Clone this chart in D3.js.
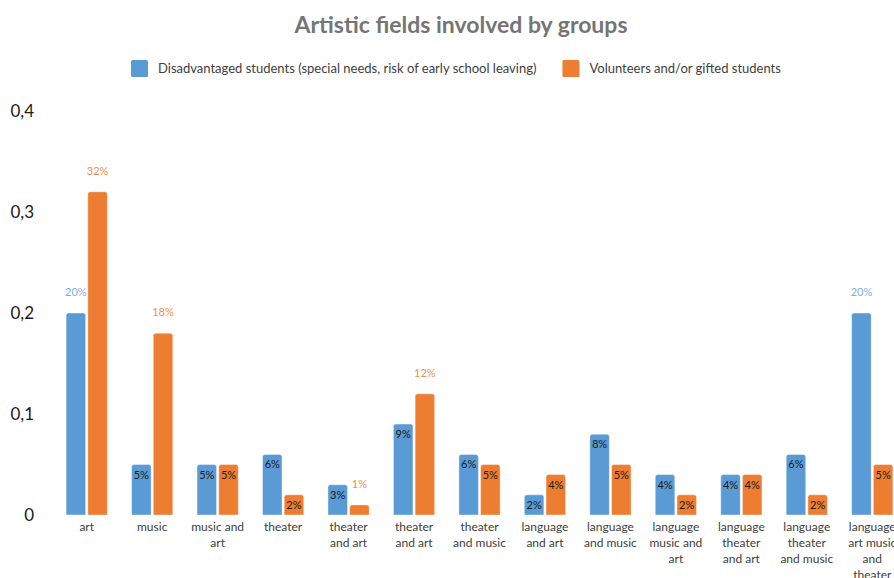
<!DOCTYPE html>
<html>
<head>
<meta charset="utf-8">
<script src="https://cdn.jsdelivr.net/npm/d3@7"></script>
<style>
  body { margin: 0; background: #fff; }
  text { font-family: Lato, "Noto Sans", sans-serif; }
</style>
</head>
<body>
<div id="chart-area"></div>
<script>
const width = 894;
const height = 578;

// data
const categories = ["art", "music", "music and art", "theater", "theater and art",
    "theater and art", "theater and music", "language and art", "language and music",
    "language music and art", "language theater and art", "language theater and music",
    "language art music and theater"];
const seriesNames = ["Disadvantaged students (special needs, risk of early school leaving)",
    "Volunteers and/or gifted students"];
const disadvantaged = [0.20, 0.05, 0.05, 0.06, 0.03, 0.09, 0.06, 0.02, 0.08, 0.04, 0.04, 0.06, 0.20];
const volunteers = [0.32, 0.18, 0.05, 0.02, 0.01, 0.12, 0.05, 0.04, 0.05, 0.02, 0.04, 0.02, 0.05];
const yTicks = [0, 0.1, 0.2, 0.3, 0.4];

const colors = ["#5B9BD5", "#ED7D31"];
const labelColors = ["#7EAEDC", "#EE8F4F"];

const plotLeft = 54, plotRight = 905, plotTop = 111, plotBottom = 515;

const svg = d3.select("#chart-area")
    .append("svg")
    .attr("width", width)
    .attr("height", height);

// title
svg.append("text")
    .attr("x", 461)
    .attr("y", 33)
    .attr("text-anchor", "middle")
    .attr("font-size", 23)
    .attr("font-weight", "bold")
    .attr("fill", "#757575")
    .text("Artistic fields involved by groups");

// legend
let lx = 131;
seriesNames.forEach((name, i) => {
    svg.append("rect")
        .attr("x", lx).attr("y", 60)
        .attr("width", 17).attr("height", 17)
        .attr("rx", 1.5)
        .attr("fill", colors[i]);
    const t = svg.append("text")
        .attr("x", lx + 27)
        .attr("y", 73)
        .attr("font-size", 13)
        .attr("fill", "#404040")
        .text(name);
    lx += 27 + t.node().getComputedTextLength() + 26;
});

const yScale = d3.scaleLinear()
    .domain([0, 0.4])
    .range([plotBottom, plotTop]);

const x0 = d3.scaleBand()
    .domain(d3.range(categories.length))
    .range([plotLeft, plotRight])
    .paddingInner(0.37)
    .paddingOuter(0.185);

const x1 = d3.scaleBand()
    .domain([0, 1])
    .range([0, x0.bandwidth()])
    .paddingInner(0.1);

// y axis (labels only)
const yAxis = d3.axisLeft(yScale)
    .tickValues(yTicks)
    .tickSize(0)
    .tickPadding(0)
    .tickFormat(d => d === 0 ? "0" : d3.format(".1f")(d).replace(".", ","));

const yAxisGroup = svg.append("g")
    .attr("transform", "translate(34,0)")
    .call(yAxis);
yAxisGroup.select(".domain").remove();
yAxisGroup.selectAll("text")
    .attr("font-family", "Lato, 'Noto Sans', sans-serif")
    .attr("font-size", 17)
    .attr("fill", "#1a1a1a");

const rows = categories.map((c, i) => ({i, c, vals: [disadvantaged[i], volunteers[i]]}));

function barPath(x, y, w, h, r) {
    r = Math.min(r, h);
    return `M${x},${y + h}V${y + r}Q${x},${y} ${x + r},${y}H${x + w - r}Q${x + w},${y} ${x + w},${y + r}V${y + h}Z`;
}

const groups = svg.selectAll(".cat")
    .data(rows)
    .enter()
    .append("g")
    .attr("class", "cat")
    .attr("transform", d => `translate(${x0(d.i)},0)`);

const bars = groups.selectAll(".bar")
    .data(d => d.vals.map((v, s) => ({v, s})))
    .enter();

bars.append("path")
    .attr("class", "bar")
    .attr("d", d => barPath(x1(d.s), yScale(d.v), x1.bandwidth(), plotBottom - yScale(d.v), 2.5))
    .attr("fill", d => colors[d.s])
    .attr("stroke", "#fff")
    .attr("stroke-opacity", 0.4)
    .attr("stroke-width", 1);

// value labels: inside the bar top when it fits, above otherwise
const inside = v => v >= 0.015 && v < 0.1;
bars.append("text")
    .attr("x", d => x1(d.s) + x1.bandwidth() / 2)
    .attr("y", d => inside(d.v) ? yScale(d.v) + 14 : yScale(d.v) - 17)
    .attr("text-anchor", "middle")
    .attr("font-size", 11)
    .attr("fill", d => inside(d.v) ? "#1a1a1a" : labelColors[d.s])
    .text(d => Math.round(d.v * 100) + "%");

// category labels, wrapped
const catText = groups.append("text")
    .attr("x", x0.bandwidth() / 2)
    .attr("y", plotBottom + 16)
    .attr("text-anchor", "middle")
    .attr("font-size", 12)
    .attr("fill", "#404040")
    .text(d => d.c);

function wrap(texts, maxWidth) {
    texts.each(function () {
        const text = d3.select(this);
        const words = text.text().split(/\s+/);
        const x = text.attr("x"), y = text.attr("y");
        text.text(null);
        let line = [];
        let lineNo = 0;
        let tspan = text.append("tspan").attr("x", x).attr("y", y);
        words.forEach(w => {
            line.push(w);
            tspan.text(line.join(" "));
            if (tspan.node().getComputedTextLength() > maxWidth && line.length > 1) {
                line.pop();
                tspan.text(line.join(" "));
                line = [w];
                lineNo++;
                tspan = text.append("tspan").attr("x", x).attr("y", +y + lineNo * 16).text(w);
            }
        });
    });
}
catText.call(wrap, 58);
</script>
</body>
</html>
